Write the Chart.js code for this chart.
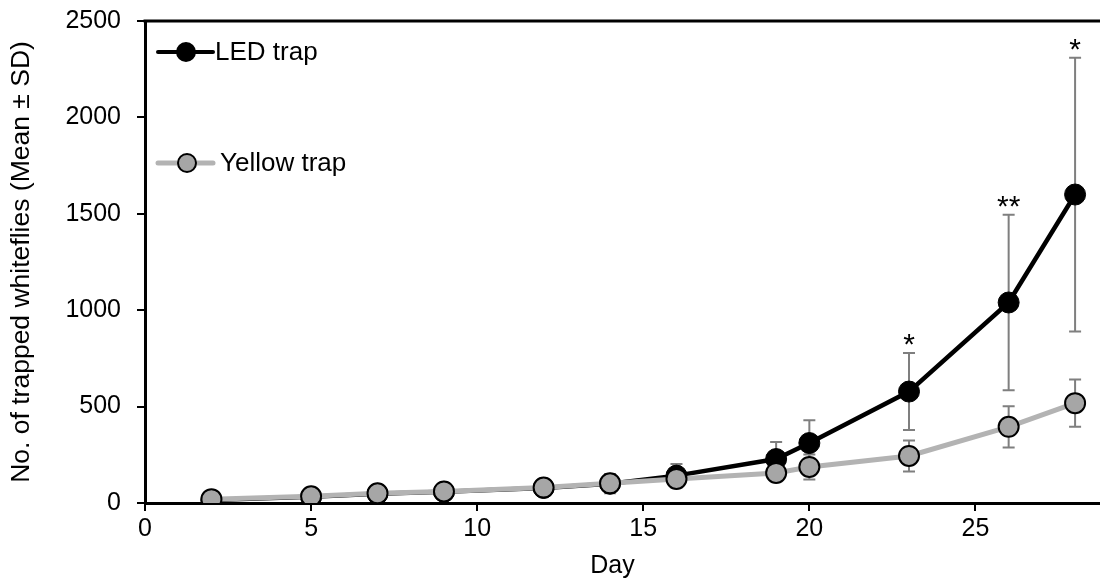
<!DOCTYPE html>
<html>
<head>
<meta charset="utf-8">
<script src="https://cdn.jsdelivr.net/npm/chart.js@4/dist/chart.umd.min.js"></script>
<style>
  html, body { margin: 0; padding: 0; background: #fff; }
  #wrap { width: 1100px; height: 583px; }
</style>
</head>
<body>
<div id="wrap"><canvas id="trapChart" width="1100" height="583"></canvas></div>
<script>
// data
const days = [2, 5, 7, 9, 12, 14, 16, 19, 20, 23, 26, 28];
const ledMean = [15, 32, 48, 58, 78, 100, 142, 228, 311, 578, 1040, 1600];
const ledSd = [5, 8, 10, 10, 15, 50, 60, 88, 118, 200, 455, 710];
const yellowMean = [20, 35, 50, 60, 80, 102, 125, 156, 187, 244, 395, 518];
const yellowSd = [5, 8, 10, 10, 12, 20, 30, 20, 65, 80, 107, 122];
const signif = ['', '', '', '', '', '', '', '', '', '*', '**', '*'];
const yTicks = [0, 500, 1000, 1500, 2000, 2500];
const xTicks = [0, 5, 10, 15, 20, 25];

const FONT = "'Liberation Sans', Arial, sans-serif";
Chart.defaults.font.family = FONT;
Chart.defaults.color = '#000';

const toPoints = (ys) => days.map((d, i) => ({ x: d, y: ys[i] }));

// error bars, top border, significance marks, legend and x title
const extras = {
  id: 'extras',
  beforeDatasetsDraw(chart) {
    const ctx = chart.ctx;
    const xs = chart.scales.x, ys = chart.scales.y;
    ctx.save();
    ctx.strokeStyle = '#7f7f7f';
    ctx.lineWidth = 2;
    [[ledMean, ledSd], [yellowMean, yellowSd]].forEach(([m, sd]) => {
      days.forEach((d, i) => {
        const px = xs.getPixelForValue(d);
        const top = ys.getPixelForValue(m[i] + sd[i]);
        const bot = ys.getPixelForValue(Math.max(m[i] - sd[i], 0));
        ctx.beginPath();
        ctx.moveTo(px, top); ctx.lineTo(px, bot);
        ctx.moveTo(px - 6, top); ctx.lineTo(px + 6, top);
        ctx.moveTo(px - 6, bot); ctx.lineTo(px + 6, bot);
        ctx.stroke();
      });
    });
    ctx.restore();
  },
  afterDraw(chart) {
    const ctx = chart.ctx;
    const area = chart.chartArea;
    const xs = chart.scales.x, ys = chart.scales.y;
    ctx.save();
    // top frame line
    ctx.strokeStyle = '#000';
    ctx.lineWidth = 3;
    ctx.beginPath();
    ctx.moveTo(area.left - 1.5, area.top);
    ctx.lineTo(chart.width, area.top);
    ctx.stroke();

    // asterisks
    ctx.fillStyle = '#000';
    ctx.font = '30px ' + FONT;
    ctx.textAlign = 'center';
    ctx.textBaseline = 'alphabetic';
    days.forEach((d, i) => {
      if (!signif[i]) return;
      const px = xs.getPixelForValue(d);
      const py = ys.getPixelForValue(ledMean[i] + ledSd[i]);
      ctx.fillText(signif[i], px, py + 1);
    });

    // x axis title, slightly left of centre like the original
    ctx.font = '25px ' + FONT;
    ctx.textBaseline = 'middle';
    ctx.fillText('Day', (area.left + area.right) / 2 - 10, 566);

    // legend
    const items = [
      { label: 'LED trap', y: area.top + 31, line: '#000', lw: 4, fill: '#000', border: '#000', cx: 41, tx: 70 },
      { label: 'Yellow trap', y: area.top + 142, line: '#b3b3b3', lw: 5, fill: '#a6a6a6', border: '#000', cx: 42, tx: 75 }
    ];
    items.forEach(it => {
      const x0 = area.left + 13;
      ctx.strokeStyle = it.line;
      ctx.lineWidth = it.lw;
      ctx.lineCap = 'round';
      ctx.beginPath();
      ctx.moveTo(x0, it.y); ctx.lineTo(x0 + 55, it.y);
      ctx.stroke();
      ctx.beginPath();
      ctx.arc(area.left + it.cx, it.y, 9, 0, Math.PI * 2);
      ctx.fillStyle = it.fill;
      ctx.fill();
      ctx.lineWidth = 2;
      ctx.strokeStyle = it.border;
      ctx.stroke();
      ctx.fillStyle = '#000';
      ctx.font = '26px ' + FONT;
      ctx.textAlign = 'left';
      ctx.textBaseline = 'middle';
      ctx.fillText(it.label, area.left + it.tx, it.y + 1);
    });
    ctx.restore();
  }
};

new Chart(document.getElementById('trapChart'), {
  type: 'line',
  data: {
    datasets: [
      {
        label: 'LED trap',
        data: toPoints(ledMean),
        borderColor: '#000',
        borderWidth: 4.5,
        pointRadius: 10.5,
        pointBackgroundColor: '#000',
        pointBorderColor: '#000',
        pointBorderWidth: 1,
        tension: 0,
        order: 2
      },
      {
        label: 'Yellow trap',
        data: toPoints(yellowMean),
        borderColor: '#b3b3b3',
        borderWidth: 5,
        pointRadius: 10,
        pointBackgroundColor: '#a6a6a6',
        pointBorderColor: '#000',
        pointBorderWidth: 2,
        tension: 0,
        order: 1
      }
    ]
  },
  options: {
    responsive: false,
    animation: false,
    layout: { autoPadding: false, padding: { top: 21, right: 0, left: 0, bottom: 0 } },
    plugins: { legend: { display: false }, tooltip: { enabled: false } },
    scales: {
      x: {
        type: 'linear',
        min: 0,
        max: 28.75,
        afterFit: s => { s.height = 80; s.paddingLeft = 0; s.paddingRight = 0; },
        afterBuildTicks: s => { s.ticks = xTicks.map(v => ({ value: v })); },
        grid: { drawOnChartArea: false, tickLength: 8, color: '#000', lineWidth: 2 },
        border: { color: '#000', width: 3 },
        ticks: { font: { size: 25 }, padding: 3, maxRotation: 0, color: '#000', callback: v => String(v) },
        title: { display: false }
      },
      y: {
        min: 0,
        max: 2500,
        afterFit: s => { s.width = 145; s.paddingTop = 0; s.paddingBottom = 0; },
        afterBuildTicks: s => { s.ticks = yTicks.map(v => ({ value: v })); },
        grid: { drawOnChartArea: false, tickLength: 8, color: '#000', lineWidth: 2 },
        border: { color: '#000', width: 3 },
        ticks: { font: { size: 25 }, padding: 16, color: '#000', callback: v => String(v) },
        title: { display: true, text: 'No. of trapped whiteflies (Mean ± SD)', font: { size: 26.5 }, padding: { top: 6, bottom: 0 }, color: '#000' }
      }
    }
  },
  plugins: [extras]
});
</script>
</body>
</html>
